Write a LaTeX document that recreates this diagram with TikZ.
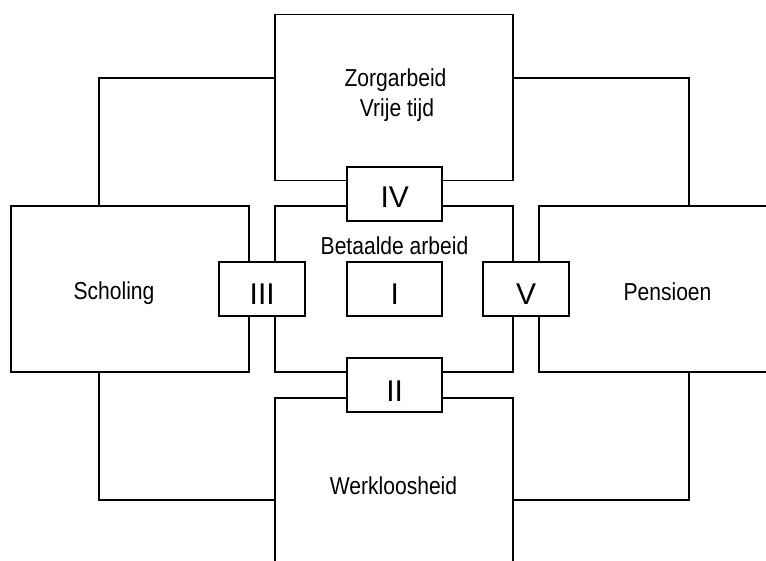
\documentclass[tikz,border=0pt]{standalone}
\usepackage{fontspec}
\setmainfont{Liberation Sans}
\newfontfamily\narrowfont[FakeStretch=0.86]{Liberation Sans}
\begin{document}
\begin{tikzpicture}[x=1pt,y=-1pt,
  bigbox/.style={draw,line width=1.8pt,fill=white,inner sep=0pt,anchor=center},
  numbox/.style={draw,line width=1.8pt,fill=white,inner sep=0pt,anchor=center},
  lbl/.style={inner sep=0pt,anchor=base,font=\narrowfont\fontsize{24.5}{28}\selectfont},
  num/.style={inner sep=0pt,anchor=base,font=\fontsize{30}{34}\selectfont},
  conn/.style={line width=1.8pt}]
\clip (0,0) rectangle (766,561);
\fill[white] (0,0) rectangle (766,561);
% big boxes
\node[bigbox,minimum width=238pt,minimum height=166pt] (zorg) at (394,97.5) {};
\node[bigbox,minimum width=238pt,minimum height=166pt] (betaald) at (394,289) {};
\node[bigbox,minimum width=238pt,minimum height=166pt] (scho) at (130,289) {};
\node[bigbox,minimum width=261pt,minimum height=166pt] (pens) at (669.5,289) {};
\node[bigbox,minimum width=238pt,minimum height=202pt] (werk) at (394,499) {};
% connectors
\draw[conn] (zorg.west |- 0,78.3) -| (scho.north -| 99,0);
\draw[conn] (zorg.east |- 0,78.3) -| (pens.north -| 689,0);
\draw[conn] (scho.south -| 99,0) |- (werk.west |- 0,500);
\draw[conn] (werk.east |- 0,500) -| (pens.south -| 689,0);
% small numbered boxes
\node[numbox,minimum width=94.7pt,minimum height=54pt] (iv) at (394.7,193.7) {};
\node[numbox,minimum width=94.7pt,minimum height=54pt] (ii) at (394.7,385.3) {};
\node[numbox,minimum width=86.3pt,minimum height=53.4pt] (iii) at (262.2,289) {};
\node[numbox,minimum width=94.7pt,minimum height=53.4pt] (i) at (394.7,289) {};
\node[numbox,minimum width=86pt,minimum height=53.4pt] (v) at (526,289) {};
% numerals
\node[num] (tiv) at (394.7,208) {IV};
\node[num] (tii) at (394.7,401) {II};
\node[num] (tiii) at (262.2,305) {III};
\node[num] (ti) at (394.7,305) {I};
\node[num] (tv) at (526,305) {V};
% labels
\node[lbl] (tzorg) at (395.5,87) {Zorgarbeid};
\node[lbl] (tvrij) at (397,117) {Vrije tijd};
\node[lbl] (tbet) at (394.5,255) {Betaalde arbeid};
\node[lbl] (tscho) at (114,299.5) {Scholing};
\node[lbl] (tpens) at (667.5,300.5) {Pensioen};
\node[lbl] (twerk) at (393.5,494) {Werkloosheid};
\end{tikzpicture}
\end{document}
